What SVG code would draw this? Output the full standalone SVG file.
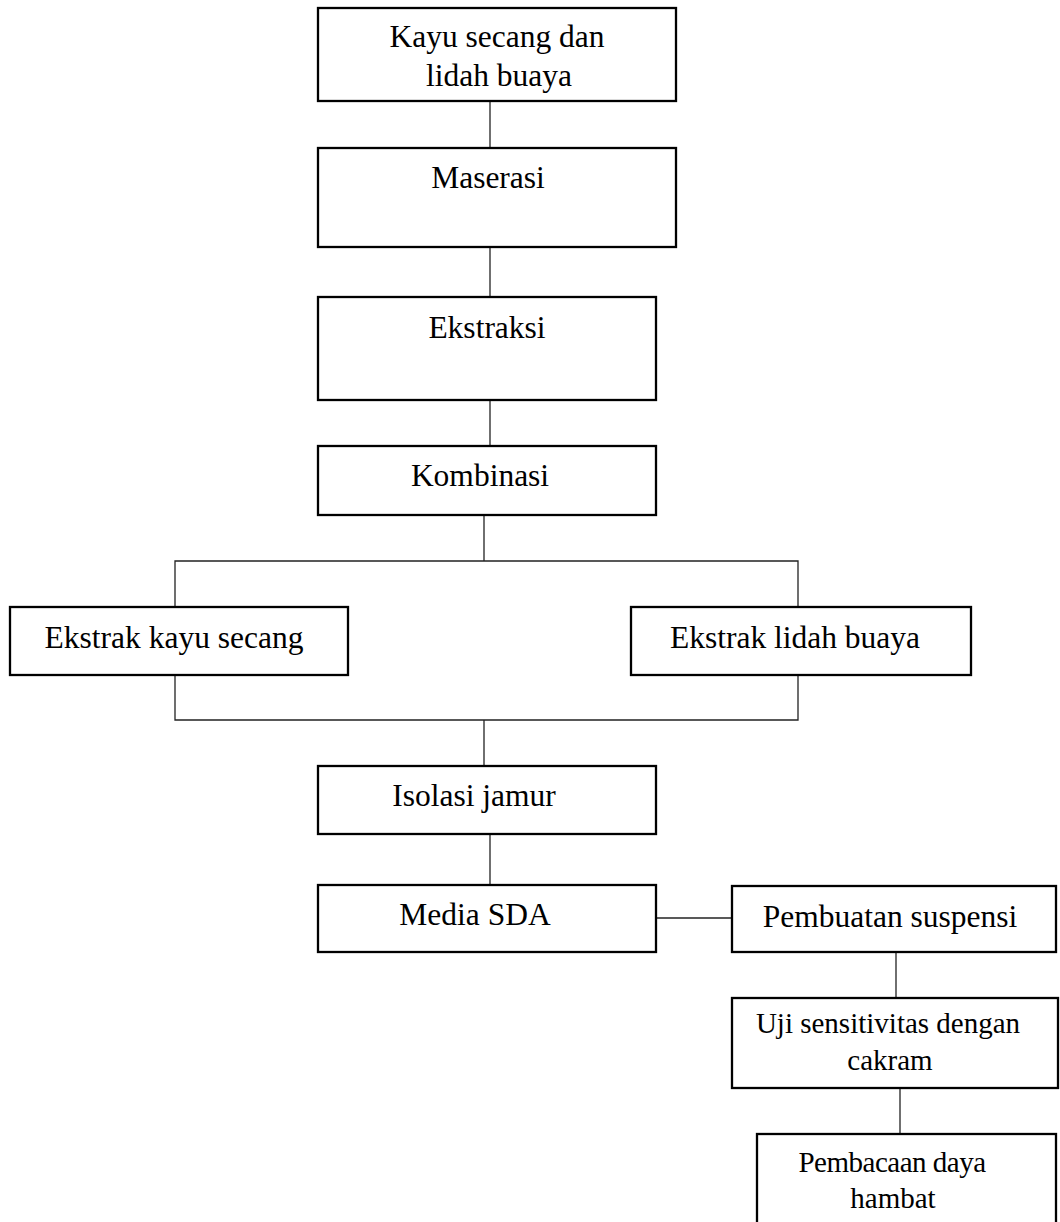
<svg xmlns="http://www.w3.org/2000/svg" width="1060" height="1222" viewBox="0 0 1060 1222">
<style>
.box{fill:#fff;stroke:#000;stroke-width:2.3}
.ln{stroke:#222;stroke-width:1.3;fill:none}
text{font-family:"Liberation Serif","Times New Roman",serif;font-size:31.5px;fill:#000;text-anchor:middle}
.sm{font-size:29px}
</style>
<rect width="1060" height="1222" fill="#fff"/>
<g id="connectors">
<line class="ln" x1="490" y1="101" x2="490" y2="148"/>
<line class="ln" x1="490" y1="247" x2="490" y2="297"/>
<line class="ln" x1="490" y1="400" x2="490" y2="446"/>
<line class="ln" x1="484" y1="515" x2="484" y2="561"/>
<polyline class="ln" points="175,607 175,561 798,561 798,607"/>
<polyline class="ln" points="175,675 175,720 798,720 798,675"/>
<line class="ln" x1="484" y1="720" x2="484" y2="766"/>
<line class="ln" x1="490" y1="834" x2="490" y2="884"/>
<line class="ln" x1="656" y1="918" x2="732" y2="918"/>
<line class="ln" x1="896" y1="952" x2="896" y2="998"/>
<line class="ln" x1="900" y1="1088" x2="900" y2="1134"/>
</g>
<g id="n1"><rect class="box" x="318" y="8" width="358" height="93"/><text x="497" y="47">Kayu secang dan</text><text x="499" y="86">lidah buaya</text></g>
<g id="n2"><rect class="box" x="318" y="148" width="358" height="99"/><text x="488" y="188">Maserasi</text></g>
<g id="n3"><rect class="box" x="318" y="297" width="338" height="103"/><text x="487" y="338">Ekstraksi</text></g>
<g id="n4"><rect class="box" x="318" y="446" width="338" height="69"/><text x="480" y="486">Kombinasi</text></g>
<g id="n5"><rect class="box" x="10" y="607" width="338" height="68"/><text x="174" y="648">Ekstrak kayu secang</text></g>
<g id="n6"><rect class="box" x="631" y="607" width="340" height="68"/><text x="795" y="648">Ekstrak lidah buaya</text></g>
<g id="n7"><rect class="box" x="318" y="766" width="338" height="68"/><text x="474" y="806">Isolasi jamur</text></g>
<g id="n8"><rect class="box" x="318" y="885" width="338" height="67"/><text x="475" y="925">Media SDA</text></g>
<g id="n9"><rect class="box" x="732" y="886" width="324" height="66"/><text x="890" y="927">Pembuatan suspensi</text></g>
<g id="n10"><rect class="box" x="732" y="998" width="326" height="90"/><text class="sm" x="888" y="1033">Uji sensitivitas dengan</text><text class="sm" x="890" y="1070">cakram</text></g>
<g id="n11"><rect class="box" x="757" y="1134" width="299" height="100"/><text class="sm" x="892" y="1172" letter-spacing="-0.5">Pembacaan daya</text><text class="sm" x="893" y="1208">hambat</text></g>
</svg>
